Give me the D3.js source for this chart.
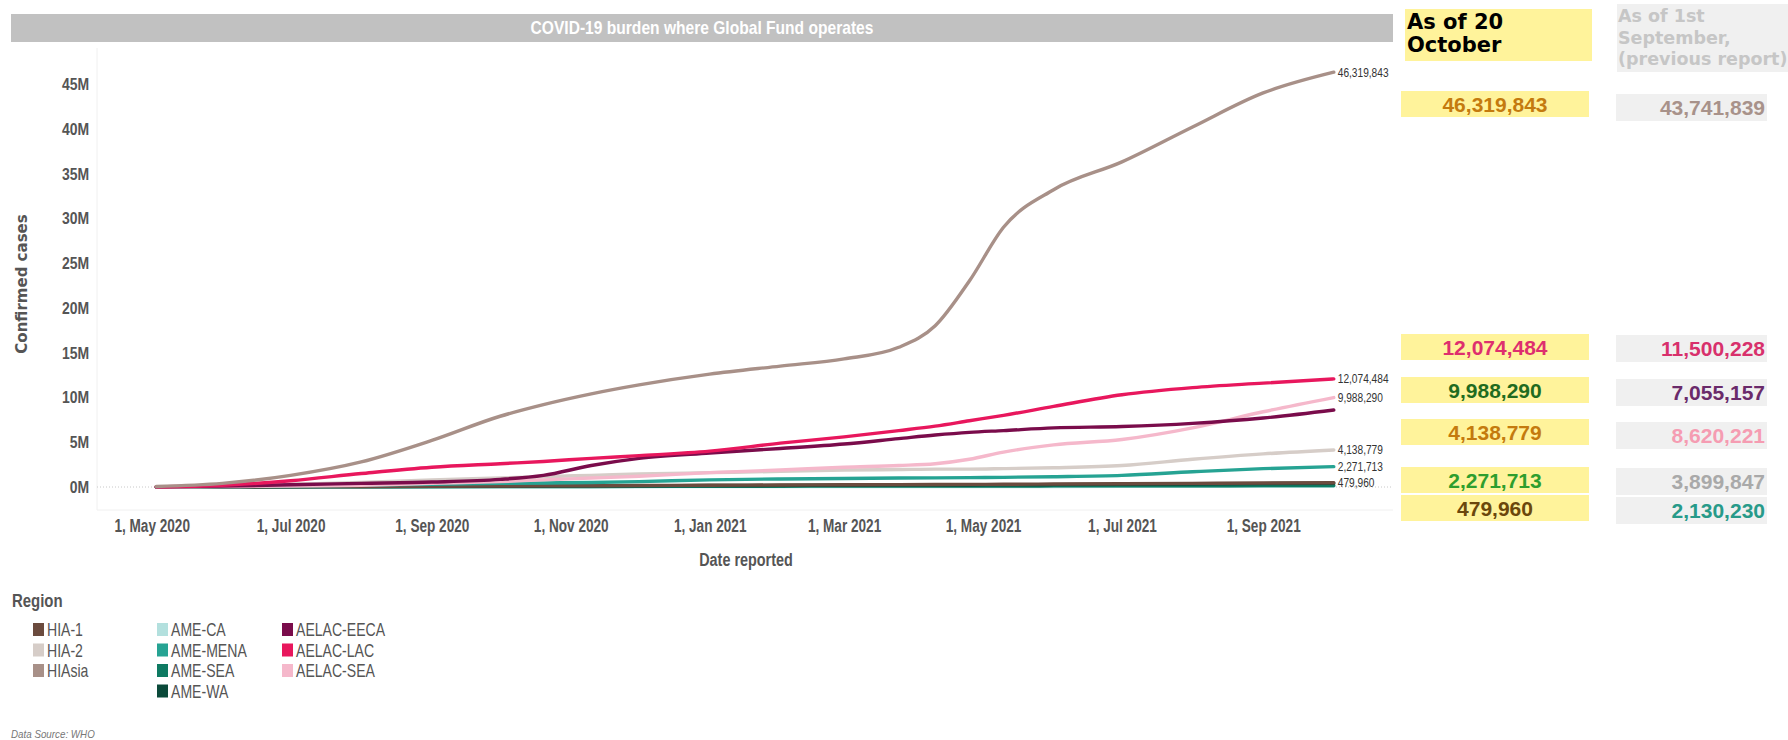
<!DOCTYPE html>
<html lang="en">
  <head>
    <meta charset="utf-8">
    <title>COVID-19 burden where Global Fund operates</title>
    <style>
      body {
          margin: 0;
          background: #fff;
      }
      svg {
          display: block;
      }
      .narrow {
          font-family: "Liberation Sans Narrow", "Arial Narrow", "Liberation Sans", Arial, sans-serif;
      }
      .heavy {
          font-family: "Arial Black", "DejaVu Sans", sans-serif;
          font-weight: bold;
      }
      .plain {
          font-family: "Liberation Sans", Arial, sans-serif;
      }
    </style>
    <script src="https://d3js.org/d3.v7.min.js"></script>
  </head>
  <body>
    <div class="chart"></div>
    <script>

    // sample dates (shared by every region), values in millions of confirmed cases
    const dates = ["2020-05-03","2020-06-01","2020-07-01","2020-08-01","2020-09-01","2020-10-01",
      "2020-10-20","2020-11-10","2020-12-01","2021-01-01","2021-02-01","2021-03-01","2021-03-25",
      "2021-04-10","2021-04-25","2021-05-10","2021-06-01","2021-07-01","2021-08-01","2021-09-01","2021-10-02"]

    const hiasia    = [0.05,0.4,1.3,2.8,5.2,7.9,9.2,10.4,11.4,12.6,13.5,14.3,15.6,18.0,23.0,29.0,33.2,36.3,40.2,44.0,46.319843]
    const aelacLac  = [0.02,0.2,0.7,1.5,2.2,2.6,2.85,3.2,3.5,4.0,4.9,5.6,6.3,6.8,7.4,8.0,9.0,10.3,11.1,11.6,12.074484]
    const aelacSea  = [0.01,0.05,0.1,0.2,0.4,0.6,0.8,1.0,1.2,1.6,1.9,2.2,2.4,2.6,3.1,3.9,4.7,5.3,6.6,8.4,9.98829]
    const aelacEeca = [0.01,0.1,0.25,0.4,0.55,0.85,1.3,2.4,3.2,3.8,4.3,4.8,5.4,5.8,6.1,6.3,6.6,6.75,7.1,7.7,8.6]
    const hia2      = [0.02,0.1,0.3,0.5,0.8,1.0,1.15,1.3,1.45,1.6,1.75,1.9,1.95,2.0,2.0,2.05,2.15,2.4,3.1,3.7,4.138779]
    const ameMena   = [0.01,0.05,0.1,0.2,0.3,0.4,0.45,0.5,0.6,0.8,0.9,0.95,1.0,1.02,1.05,1.08,1.15,1.3,1.7,2.05,2.271713]
    const hia1      = [0.005,0.02,0.04,0.06,0.08,0.1,0.12,0.14,0.16,0.2,0.22,0.25,0.27,0.28,0.29,0.3,0.33,0.37,0.41,0.45,0.47996]
    const ameWa     = [0.003,0.01,0.03,0.05,0.07,0.09,0.1,0.12,0.14,0.16,0.18,0.2,0.21,0.22,0.23,0.24,0.26,0.29,0.33,0.38,0.42]
    const ameSea    = [0.001,0.005,0.01,0.02,0.03,0.04,0.05,0.06,0.07,0.08,0.09,0.1,0.1,0.1,0.11,0.11,0.12,0.13,0.14,0.15,0.16]
    const ameCa     = [0.001,0.003,0.006,0.01,0.015,0.02,0.025,0.03,0.035,0.04,0.045,0.05,0.05,0.05,0.055,0.055,0.06,0.065,0.07,0.075,0.08]

    // legend order (three columns)
    const legendCols = [
      ["HIA-1","HIA-2","HIAsia"],
      ["AME-CA","AME-MENA","AME-SEA","AME-WA"],
      ["AELAC-EECA","AELAC-LAC","AELAC-SEA"]
    ]
    const regionColors = {
      "HIA-1":"#6b4b3e", "HIA-2":"#d6cdc8", "HIAsia":"#a89088",
      "AME-CA":"#b3e0de", "AME-MENA":"#26a393", "AME-SEA":"#0e7a62", "AME-WA":"#0b4a3a",
      "AELAC-EECA":"#7a0c4b", "AELAC-LAC":"#e8175d", "AELAC-SEA":"#f5b8cb"
    }

    // drawn bottom to top; labelled ones get their last value printed
    const drawOrder = ["AME-CA","AME-SEA","AME-WA","HIA-1","AME-MENA","HIA-2","AELAC-SEA","AELAC-EECA","AELAC-LAC","HIAsia"]
    const regionValues = {
      "HIAsia":hiasia, "AELAC-LAC":aelacLac, "AELAC-SEA":aelacSea, "AELAC-EECA":aelacEeca,
      "HIA-2":hia2, "AME-MENA":ameMena, "HIA-1":hia1, "AME-WA":ameWa, "AME-SEA":ameSea, "AME-CA":ameCa
    }
    const labelled = ["HIAsia","AELAC-LAC","AELAC-SEA","HIA-2","AME-MENA","HIA-1"]

    const yTicks = [0,5,10,15,20,25,30,35,40,45]
    const xTicks = ["2020-05-01","2020-07-01","2020-09-01","2020-11-01","2021-01-01","2021-03-01","2021-05-01","2021-07-01","2021-09-01"]

    // side tables
    const currentHeader = ["As of 20","October"]
    const currentVals   = [46319843,12074484,9988290,4138779,2271713,479960]
    const currentColors = ["#c47a0e","#de2f6e","#1f6b1f","#c47a0e","#2e9e2e","#6b470c"]
    const prevHeader    = ["As of 1st","September,","(previous report)"]
    const prevVals      = [43741839,11500228,7055157,8620221,3899847,2130230]
    const prevColors    = ["#a8928a","#d8306c","#6a2a6a","#f59cb2","#a9a9a9","#279a89"]

    const width = 1788, height = 740
    const plot = { left: 97, right: 1393, top: 48, bottom: 510 }

    const parse = d3.timeParse("%Y-%m-%d")
    const fmtNum = d3.format(",")

    // no condensed face installed: squeeze the glyphs instead
    const squeeze = (sel, k) => sel.each(function(){
      const len = this.getComputedTextLength()
      d3.select(this).attr("textLength",len*k).attr("lengthAdjust","spacingAndGlyphs")
    })

    const svg = d3.select(".chart")
      .append("svg")
      .attr("width",width)
      .attr("height",height)

    const x = d3.scaleTime()
      .domain([parse("2020-04-07"),parse("2021-10-28")])
      .range([plot.left,plot.right])

    const y = d3.scaleLinear()
      .domain([0,45])
      .range([487,84])

    // title bar
    svg.append("rect")
      .attr("x",11).attr("y",14)
      .attr("width",1382).attr("height",28)
      .attr("fill","#c1c1c1")
    svg.append("text")
      .attr("class","narrow")
      .attr("x",702).attr("y",34)
      .attr("text-anchor","middle")
      .style("font-size","19px")
      .style("font-weight","bold")
      .style("fill","#fff")
      .text("COVID-19 burden where Global Fund operates")
      .call(squeeze,0.82)

    // faint pane borders
    svg.append("line")
      .attr("x1",plot.left).attr("x2",plot.left)
      .attr("y1",plot.top).attr("y2",plot.bottom)
      .attr("stroke","#f0f0f0")
    svg.append("line")
      .attr("x1",plot.left).attr("x2",plot.right)
      .attr("y1",plot.bottom).attr("y2",plot.bottom)
      .attr("stroke","#f0f0f0")

    // zero reference
    svg.append("line")
      .attr("x1",plot.left).attr("x2",plot.right)
      .attr("y1",y(0)).attr("y2",y(0))
      .attr("stroke","#c8c8c8")
      .attr("stroke-dasharray","1,2")

    // axes
    const yAxis = svg.append("g")
      .attr("transform",`translate(${plot.left},0)`)
      .call(d3.axisLeft(y).tickValues(yTicks).tickSize(0).tickPadding(8).tickFormat(d=>d+"M"))
    yAxis.select(".domain").remove()
    yAxis.selectAll("text")
      .attr("class","narrow")
      .style("font-size","17px")
      .style("font-weight","bold")
      .style("fill","#555")
      .call(squeeze,0.82)

    const xAxis = svg.append("g")
      .attr("transform",`translate(0,${plot.bottom+2})`)
      .call(d3.axisBottom(x).tickValues(xTicks.map(parse)).tickSize(0).tickPadding(7).tickFormat(d3.timeFormat("%-d, %b %Y")))
    xAxis.select(".domain").remove()
    xAxis.selectAll("text")
      .attr("class","narrow")
      .style("font-size","18px")
      .style("font-weight","bold")
      .style("fill","#555")
      .call(squeeze,0.755)

    svg.append("text")
      .attr("class","narrow")
      .attr("x",746).attr("y",566)
      .attr("text-anchor","middle")
      .style("font-size","18px")
      .style("font-weight","bold")
      .style("fill","#555")
      .text("Date reported")
      .call(squeeze,0.8)

    svg.append("text")
      .attr("transform","translate(27,284) rotate(-90)")
      .attr("text-anchor","middle")
      .style("font-family","'DejaVu Sans', Verdana, sans-serif")
      .style("font-size","15px")
      .style("font-weight","bold")
      .style("fill","#555")
      .text("Confirmed cases")

    // lines
    const series = drawOrder.map(name => ({
      name: name,
      color: regionColors[name],
      points: dates.map((d,i) => ({date: parse(d), value: regionValues[name][i]}))
    }))

    const line = d3.line()
      .x(d=>x(d.date))
      .y(d=>y(d.value))
      .curve(d3.curveMonotoneX)

    svg.append("g")
      .attr("fill","none")
      .attr("stroke-width",3.4)
      .attr("stroke-linecap","round")
      .selectAll("path")
      .data(series)
      .join("path")
      .attr("stroke",d=>d.color)
      .attr("d",d=>line(d.points))

    svg.append("g")
      .selectAll("text")
      .data(series.filter(d=>labelled.includes(d.name)))
      .join("text")
      .attr("class","narrow")
      .attr("x",d=>x(d.points[d.points.length-1].date)+4)
      .attr("y",d=>y(d.points[d.points.length-1].value))
      .attr("dy","0.35em")
      .style("font-size","13px")
      .style("fill","#333")
      .text(d=>fmtNum(Math.round(d.points[d.points.length-1].value*1e6)))
      .call(squeeze,0.78)

    // side tables
    const curTops = [91,334,377,419,467,495]
    const prevTops = [94,335,379,422,468,497]

    svg.append("rect")
      .attr("x",1405).attr("y",9).attr("width",187).attr("height",52)
      .attr("fill","#fff39b")
    svg.append("g")
      .selectAll("text")
      .data(currentHeader)
      .join("text")
      .attr("class","heavy")
      .attr("x",1407)
      .attr("y",(d,i)=>29+i*23)
      .style("font-size","21px")
      .style("fill","#000")
      .text(d=>d)

    svg.append("rect")
      .attr("x",1617).attr("y",4).attr("width",171).attr("height",68)
      .attr("fill","#f0f0f0")
    svg.append("g")
      .selectAll("text")
      .data(prevHeader)
      .join("text")
      .attr("class","heavy")
      .attr("x",1618)
      .attr("y",(d,i)=>22+i*21.5)
      .style("font-size","17.5px")
      .style("fill","#c6c6c6")
      .text(d=>d)

    const cur = svg.append("g")
      .selectAll("g")
      .data(currentVals)
      .join("g")
      .attr("transform",(d,i)=>`translate(1401,${curTops[i]})`)
    cur.append("rect")
      .attr("width",188).attr("height",26)
      .attr("fill","#fff39b")
    cur.append("text")
      .attr("class","plain")
      .attr("x",94).attr("y",21)
      .attr("text-anchor","middle")
      .style("font-size","21px")
      .style("font-weight","bold")
      .style("fill",(d,i)=>currentColors[i])
      .text(d=>fmtNum(d))

    const prev = svg.append("g")
      .selectAll("g")
      .data(prevVals)
      .join("g")
      .attr("transform",(d,i)=>`translate(1616,${prevTops[i]})`)
    prev.append("rect")
      .attr("width",151).attr("height",27)
      .attr("fill","#f0f0f0")
    prev.append("text")
      .attr("class","plain")
      .attr("x",149).attr("y",21)
      .attr("text-anchor","end")
      .style("font-size","21px")
      .style("font-weight","bold")
      .style("fill",(d,i)=>prevColors[i])
      .text(d=>fmtNum(d))

    // legend
    svg.append("text")
      .attr("class","narrow")
      .attr("x",12).attr("y",607)
      .style("font-size","18px")
      .style("font-weight","bold")
      .style("fill","#555")
      .text("Region")
      .call(squeeze,0.83)

    const colX = [33,157,282]
    legendCols.forEach((col,ci) => {
      const item = svg.append("g")
        .selectAll("g")
        .data(col)
        .join("g")
        .attr("transform",(d,i)=>`translate(${colX[ci]},${623+i*20.5})`)
      item.append("rect")
        .attr("width",11).attr("height",13)
        .attr("fill",d=>regionColors[d])
      item.append("text")
        .attr("class","narrow")
        .attr("x",14).attr("y",13)
        .style("font-size","18.5px")
        .style("fill","#555")
        .text(d=>d)
        .call(squeeze,0.76)
    })

    svg.append("text")
      .attr("class","plain")
      .attr("x",11).attr("y",738)
      .style("font-size","11px")
      .style("font-style","italic")
      .style("fill","#777")
      .text("Data Source: WHO")
      .call(squeeze,0.89)

    </script>
  </body>
</html>
